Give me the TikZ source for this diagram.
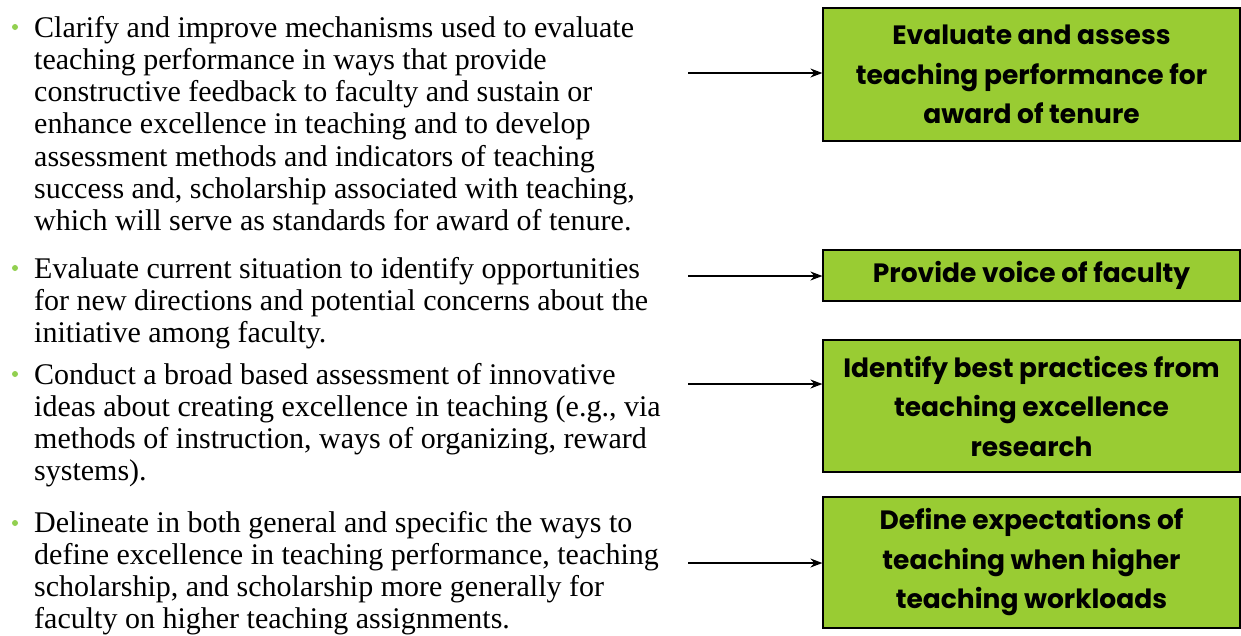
\documentclass[tikz,border=0pt]{standalone}
\usepackage{fontspec}
\setmainfont{Liberation Serif}
\newfontfamily\boxfont{Poppins}
\usetikzlibrary{arrows.meta}
\definecolor{boxgreen}{RGB}{153,204,51}
\definecolor{dotgreen}{RGB}{146,208,80}
\tikzset{
	itemtext/.style = {
		align=left,
		inner sep=0pt,
		anchor=north west,
		font=\fontsize{30}{32.2}\selectfont
	},
	itemdot/.style = {
		circle,
		inner sep=0pt,
		minimum size=6pt,
		fill=dotgreen
	},
	goalbox/.style = {
		rectangle,
		draw=black,
		line width=1.2pt,
		fill=boxgreen,
		align=center,
		minimum width=417pt,
		inner sep=0pt,
		font=\boxfont\bfseries\fontsize{26.5}{39.5}\selectfont
	},
}

\begin{document}
\begin{tikzpicture}[x=1pt,y=-1pt,>={Stealth[length=12pt,width=9pt]}]
\useasboundingbox (0,0) rectangle (1241,635);

% left column
\node [itemdot] (d1) at (15,27) {};
\node [itemtext] (t1) at (34,16) {Clarify and improve mechanisms used to evaluate\\
teaching performance in ways that provide\\
constructive feedback to faculty and sustain or\\
enhance excellence in teaching and to develop\\
assessment methods and indicators of teaching\\
success and, scholarship associated with teaching,\\
which will serve as standards for award of tenure.};
\node [itemdot] (d2) at (15,268) {};
\node [itemtext] (t2) at (34,257) {Evaluate current situation to identify opportunities\\
for new directions and potential concerns about the\\
initiative among faculty.};
\node [itemdot] (d3) at (15,374) {};
\node [itemtext] (t3) at (34,363) {Conduct a broad based assessment of innovative\\
ideas about creating excellence in teaching (e.g., via\\
methods of instruction, ways of organizing, reward\\
systems).};
\node [itemdot] (d4) at (15,523) {};
\node [itemtext] (t4) at (34,511) {Delineate in both general and specific the ways to\\
define excellence in teaching performance, teaching\\
scholarship, and scholarship more generally for\\
faculty on higher teaching assignments.};

% right column
\node [goalbox, minimum height=133pt] (g1) at (1031.5,74.5) {Evaluate and assess\\teaching performance for\\award of tenure};
\node [goalbox, minimum height=51pt] (g2) at (1031.5,275.5) {Provide voice of faculty};
\node [goalbox, minimum height=132pt] (g3) at (1031.5,406) {Identify best practices from\\teaching excellence\\research};
\node [goalbox, minimum height=131pt] (g4) at (1031.5,562.5) {Define expectations of\\teaching when higher\\teaching workloads};

% arrows
\coordinate (s1) at (688,73);
\coordinate (s2) at (688,276);
\coordinate (s3) at (688,384);
\coordinate (s4) at (688,563);
\draw [->, line width=1.5pt] (s1) -- (s1 -| g1.west);
\draw [->, line width=1.5pt] (s2) -- (s2 -| g2.west);
\draw [->, line width=1.5pt] (s3) -- (s3 -| g3.west);
\draw [->, line width=1.5pt] (s4) -- (s4 -| g4.west);
\end{tikzpicture}
\end{document}
